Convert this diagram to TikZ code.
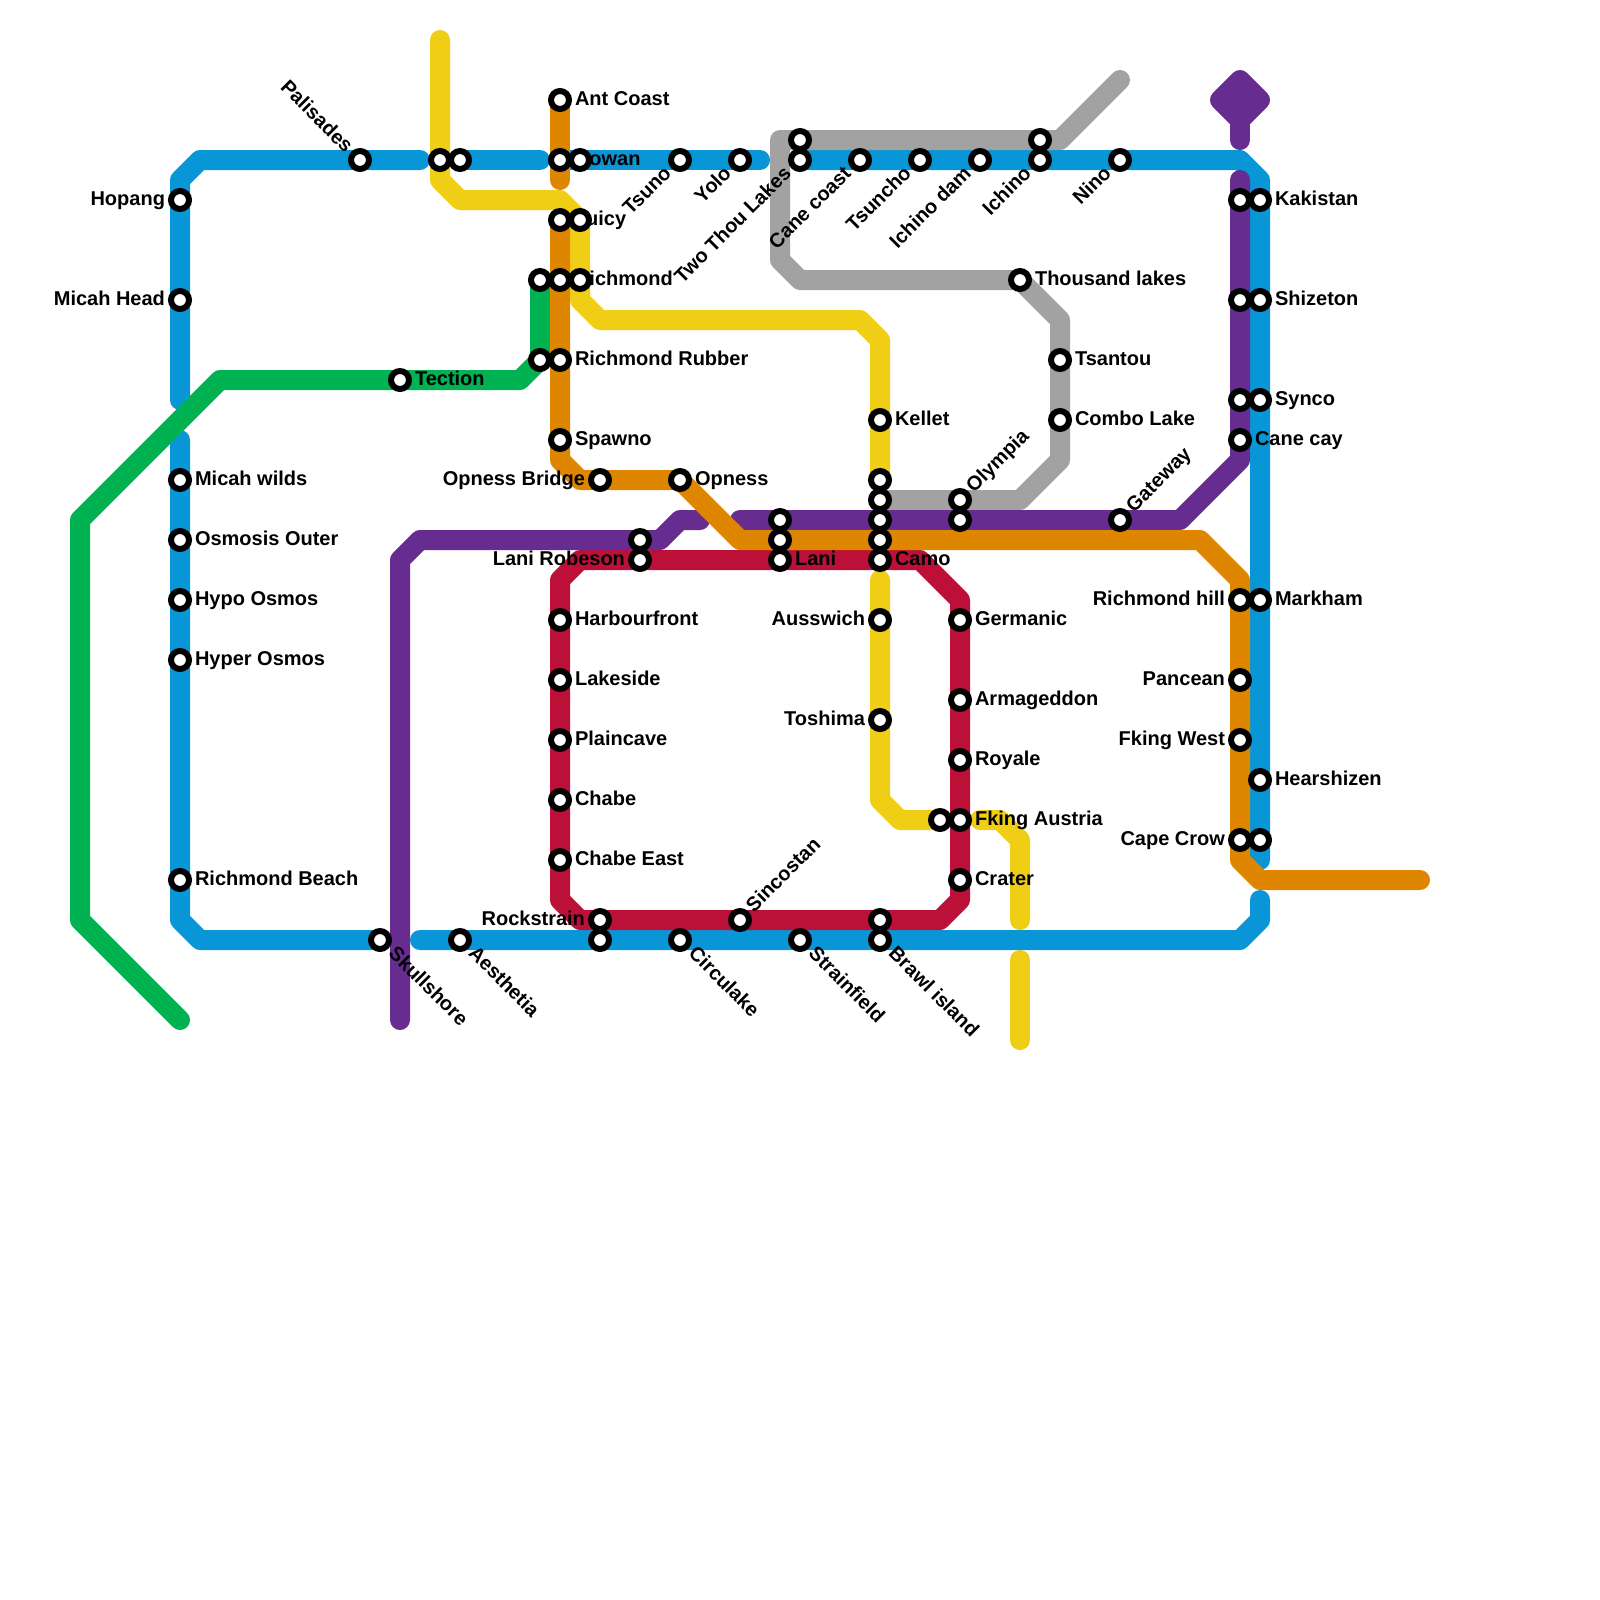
\documentclass[tikz,border=0pt]{standalone}
\usepackage{fontspec}
\setmainfont{Liberation Sans}
\usetikzlibrary{backgrounds}
\definecolor{mblue}{HTML}{0896D7}
\definecolor{mgreen}{HTML}{00B251}
\definecolor{myellow}{HTML}{F0CE15}
\definecolor{morange}{HTML}{DF8600}
\definecolor{mred}{HTML}{BD1038}
\definecolor{mpurple}{HTML}{662C90}
\definecolor{mgray}{HTML}{A2A2A2}
\tikzset{
  metro/.style={line width=2.5mm,line cap=round,line join=round},
  stn/.style={circle,draw=black,fill=white,line width=.75mm,minimum size=2.25mm,inner sep=0pt},
  every label/.style={font=\bfseries\fontsize{7.11pt}{8pt}\selectfont,inner sep=0pt},
  label distance=.31mm,
  lr/.style={anchor=base west,yshift=-.63mm},
  ll/.style={anchor=base east,yshift=-.63mm},
  ur/.style={rotate=45,anchor=base west,xshift=.05mm,yshift=-.87mm},
  dl/.style={rotate=45,anchor=base east,xshift=-.19mm,yshift=-.38mm},
  ul/.style={rotate=-45,anchor=base east,xshift=-.1mm,yshift=-1mm},
  dr/.style={rotate=-45,anchor=base west,xshift=.19mm,yshift=-.4mm}
}
\begin{document}
\begin{tikzpicture}[x=.25cm,y=-.25cm]
\useasboundingbox (0,0) rectangle (80,80);
% left side
\node[stn,label={[ll]left:Hopang}] (hopang) at (9,10) {};
\node[stn,label={[ll]left:Micah Head}] (micahhead) at (9,15) {};
\node[stn,label={[lr]right:Micah wilds}] (micahwilds) at (9,24) {};
\node[stn,label={[lr]right:Osmosis Outer}] (osmosis) at (9,27) {};
\node[stn,label={[lr]right:Hypo Osmos}] (hypo) at (9,30) {};
\node[stn,label={[lr]right:Hyper Osmos}] (hyper) at (9,33) {};
\node[stn,label={[lr]right:Richmond Beach}] (richbeach) at (9,44) {};
\node[stn,label={[ul]135:Palisades}] (palisades) at (18,8) {};
\node[stn,label={[lr]right:Tection}] (tection) at (20,19) {};
\node[stn,label={[dr]-45:Skullshore}] (skullshore) at (19,47) {};
\node[stn,label={[dr]-45:Aesthetia}] (aesthetia) at (23,47) {};
\node[stn] (yellowtop) at (22,8) {};
\node[stn] (bluetop) at (23,8) {};
% middle column
\node[stn,label={[lr]right:Ant Coast}] (antcoast) at (28,5) {};
\node[stn,label={[lr]right:Rowan}] (rowan) at (28,8) {};
\node[stn] (rowanb) at (29,8) {};
\node[stn,label={[lr]right:Juicy}] (juicy) at (28,11) {};
\node[stn] (juicyb) at (29,11) {};
\node[stn] (richmonda) at (27,14) {};
\node[stn,label={[lr]right:Richmond}] (richmond) at (28,14) {};
\node[stn] (richmondb) at (29,14) {};
\node[stn] (rubbera) at (27,18) {};
\node[stn,label={[lr]right:Richmond Rubber}] (rubber) at (28,18) {};
\node[stn,label={[lr]right:Spawno}] (spawno) at (28,22) {};
\node[stn,label={[ll]left:Opness Bridge}] (opnessbridge) at (30,24) {};
\node[stn,label={[lr]right:Opness}] (opness) at (34,24) {};
\node[stn] (robesona) at (32,27) {};
\node[stn,label={[ll]left:Lani Robeson}] (robeson) at (32,28) {};
\node[stn,label={[lr]right:Harbourfront}] (harbourfront) at (28,31) {};
\node[stn,label={[lr]right:Lakeside}] (lakeside) at (28,34) {};
\node[stn,label={[lr]right:Plaincave}] (plaincave) at (28,37) {};
\node[stn,label={[lr]right:Chabe}] (chabe) at (28,40) {};
\node[stn,label={[lr]right:Chabe East}] (chabeeast) at (28,43) {};
\node[stn,label={[ll]left:Rockstrain}] (rockstrain) at (30,46) {};
\node[stn] (rockstrainb) at (30,47) {};
\node[stn,label={[dr]-45:Circulake}] (circulake) at (34,47) {};
\node[stn,label={[ur]45:Sincostan}] (sincostan) at (37,46) {};
\node[stn,label={[dr]-45:Strainfield}] (strainfield) at (40,47) {};
% top row
\node[stn,label={[dl]225:Tsuno}] (tsuno) at (34,8) {};
\node[stn,label={[dl]225:Yolo}] (yolo) at (37,8) {};
\node[stn] (twothoua) at (40,7) {};
\node[stn,label={[dl]225:Two Thou Lakes}] (twothou) at (40,8) {};
\node[stn,label={[dl]225:Cane coast}] (canecoast) at (43,8) {};
\node[stn,label={[dl]225:Tsuncho}] (tsuncho) at (46,8) {};
\node[stn,label={[dl]225:Ichino dam}] (ichinodam) at (49,8) {};
\node[stn] (ichinoa) at (52,7) {};
\node[stn,label={[dl]225:Ichino}] (ichino) at (52,8) {};
\node[stn,label={[dl]225:Nino}] (nino) at (56,8) {};
% centre
\node[stn] (lanic) at (39,26) {};
\node[stn] (lanib) at (39,27) {};
\node[stn,label={[lr]right:Lani}] (lani) at (39,28) {};
\node[stn,label={[lr]right:Kellet}] (kellet) at (44,21) {};
\node[stn] (camoe) at (44,24) {};
\node[stn] (camod) at (44,25) {};
\node[stn] (camoc) at (44,26) {};
\node[stn] (camob) at (44,27) {};
\node[stn,label={[lr]right:Camo}] (camo) at (44,28) {};
\node[stn,label={[ll]left:Ausswich}] (ausswich) at (44,31) {};
\node[stn,label={[ll]left:Toshima}] (toshima) at (44,36) {};
\node[stn] (brawlb) at (44,46) {};
\node[stn,label={[dr]-45:Brawl island}] (brawl) at (44,47) {};
\node[stn,label={[ur]45:Olympia}] (olympia) at (48,25) {};
\node[stn] (olympiab) at (48,26) {};
\node[stn,label={[lr]right:Germanic}] (germanic) at (48,31) {};
\node[stn,label={[lr]right:Armageddon}] (armageddon) at (48,35) {};
\node[stn,label={[lr]right:Royale}] (royale) at (48,38) {};
\node[stn] (austriaa) at (47,41) {};
\node[stn,label={[lr]right:Fking Austria}] (austria) at (48,41) {};
\node[stn,label={[lr]right:Crater}] (crater) at (48,44) {};
% right side
\node[stn,label={[lr]right:Thousand lakes}] (thousand) at (51,14) {};
\node[stn,label={[lr]right:Tsantou}] (tsantou) at (53,18) {};
\node[stn,label={[lr]right:Combo Lake}] (combo) at (53,21) {};
\node[stn,label={[ur]45:Gateway}] (gateway) at (56,26) {};
\node[stn] (kakistana) at (62,10) {};
\node[stn,label={[lr]right:Kakistan}] (kakistan) at (63,10) {};
\node[stn] (shizetona) at (62,15) {};
\node[stn,label={[lr]right:Shizeton}] (shizeton) at (63,15) {};
\node[stn] (syncoa) at (62,20) {};
\node[stn,label={[lr]right:Synco}] (synco) at (63,20) {};
\node[stn,label={[lr]right:Cane cay}] (canecay) at (62,22) {};
\node[stn,label={[ll]left:Richmond hill}] (richhill) at (62,30) {};
\node[stn,label={[lr]right:Markham}] (markham) at (63,30) {};
\node[stn,label={[ll]left:Pancean}] (pancean) at (62,34) {};
\node[stn,label={[ll]left:Fking West}] (fkingwest) at (62,37) {};
\node[stn,label={[lr]right:Hearshizen}] (hearshizen) at (63,39) {};
\node[stn,label={[ll]left:Cape Crow}] (capecrow) at (62,42) {};
\node[stn] (capecrowb) at (63,42) {};
% free line ends
\coordinate (blueA) at (9,20);
\coordinate (blueB) at (21,8);
\coordinate (blueC) at (27,8);
\coordinate (blueD) at (38,8);
\coordinate (blueE) at (63,43);
\coordinate (blueF) at (63,45);
\coordinate (blueG) at (21,47);
\coordinate (blueH) at (9,22);
\coordinate (greenA) at (9,51);
\coordinate (purpleA) at (20,51);
\coordinate (purpleB) at (35,26);
\coordinate (purpleC) at (37,26);
\coordinate (purpleD) at (62,9);
\coordinate (purpleE) at (62,7);
\coordinate (orangeA) at (28,9);
\coordinate (orangeB) at (71,44);
\coordinate (yellowA) at (22,2);
\coordinate (yellowB) at (44,29);
\coordinate (yellowC) at (49,41);
\coordinate (yellowD) at (51,46);
\coordinate (yellowE) at (51,48);
\coordinate (yellowF) at (51,52);
\coordinate (grayA) at (56,4);
% lines
\begin{pgfonlayer}{background}
\draw[metro,myellow] (yellowA)--(yellowtop.center)--(22,9)--(23,10)--(28,10)--(29,11)--(richmondb.center)--(29,15)--(30,16)--(43,16)--(44,17)--(kellet.center)--(camoe.center);
\draw[metro,myellow] (yellowB)--(ausswich.center)--(toshima.center)--(44,40)--(45,41)--(austriaa.center);
\draw[metro,myellow] (yellowC)--(50,41)--(51,42)--(yellowD);
\draw[metro,myellow] (yellowE)--(yellowF);
\draw[metro,mblue] (blueA)--(micahhead.center)--(hopang.center)--(9,9)--(10,8)--(palisades.center)--(blueB);
\draw[metro,mblue] (bluetop.center)--(blueC);
\draw[metro,mblue] (rowan.center)--(tsuno.center)--(yolo.center)--(blueD);
\draw[metro,mblue] (twothou.center)--(nino.center)--(62,8)--(63,9)--(kakistan.center)--(capecrowb.center)--(blueE);
\draw[metro,mblue] (blueF)--(63,46)--(62,47)--(brawl.center)--(blueG);
\draw[metro,mblue] (blueH)--(richbeach.center)--(9,46)--(10,47)--(skullshore.center);
\draw[metro,mred] (29,28)--(robeson.center)--(camo.center)--(46,28)--(48,30)--(crater.center)--(48,45)--(47,46)--(brawlb.center)--(rockstrain.center)--(29,46)--(28,45)--(harbourfront.center)--(28,29)--cycle;
\draw[metro,mgray] (grayA)--(53,7)--(ichinoa.center)--(twothoua.center)--(39,7)--(39,13)--(40,14)--(thousand.center)--(53,16)--(tsantou.center)--(combo.center)--(53,23)--(51,25)--(olympia.center)--(camod.center);
\draw[metro,mgreen] (greenA)--(4,46)--(4,26)--(11,19)--(tection.center)--(26,19)--(rubbera.center)--(richmonda.center);
\draw[metro,mpurple] (purpleA)--(20,28)--(21,27)--(robesona.center)--(33,27)--(34,26)--(purpleB);
\draw[metro,mpurple] (purpleC)--(lanic.center)--(camoc.center)--(olympiab.center)--(gateway.center)--(59,26)--(62,23)--(canecay.center)--(syncoa.center)--(shizetona.center)--(kakistana.center)--(purpleD);
\draw[metro,mpurple] (purpleE)--(62,6);
\draw[metro,mpurple,fill=mpurple] (62,6)--(61,5)--(62,4)--(63,5)--cycle;
\draw[metro,morange] (antcoast.center)--(rowan.center)--(orangeA);
\draw[metro,morange] (juicy.center)--(richmond.center)--(rubber.center)--(spawno.center)--(28,23)--(29,24)--(opnessbridge.center)--(opness.center)--(37,27)--(lanib.center)--(camob.center)--(60,27)--(62,29)--(richhill.center)--(pancean.center)--(fkingwest.center)--(capecrow.center)--(62,43)--(63,44)--(orangeB);
\end{pgfonlayer}
\end{tikzpicture}
\end{document}
